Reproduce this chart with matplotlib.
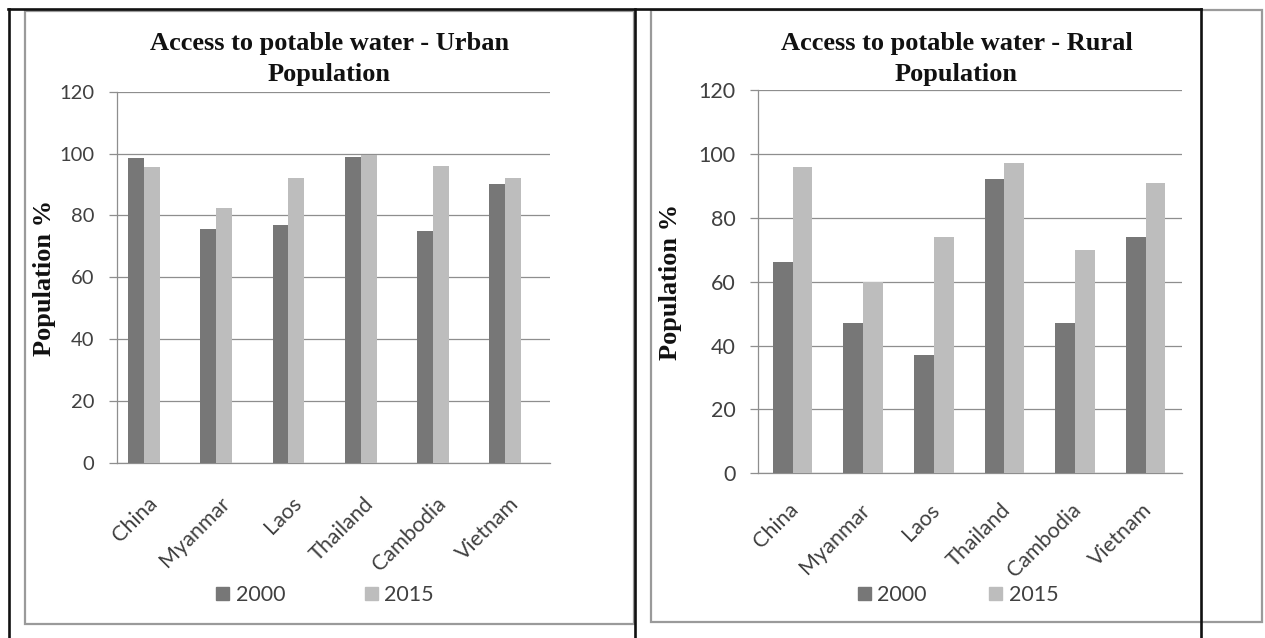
import matplotlib
matplotlib.use("Agg")
import matplotlib.pyplot as plt
from matplotlib.lines import Line2D
from matplotlib.patches import Rectangle, Patch
from matplotlib.transforms import ScaledTranslation
import numpy as np

countries = ['China', 'Myanmar', 'Laos', 'Thailand', 'Cambodia', 'Vietnam']
urban_2000 = [98.5, 75.5, 77, 99, 75, 90]
urban_2015 = [95.5, 82.5, 92, 99.5, 96, 92]
rural_2000 = [66, 47, 37, 92, 47, 74]
rural_2015 = [96, 60, 74, 97, 70, 91]
years = ['2000', '2015']
yticks = [0, 20, 40, 60, 80, 100, 120]

W, H = 1265, 638
DARK, LIGHT = '#777777', '#bdbdbd'
GRID = '#8e8e8e'
TXT = '#404040'
SANS = 'Lato'
SERIF = 'Liberation Serif'

fig = plt.figure(figsize=(W / 100, H / 100), dpi=100)


def fx(px):
    return px / W


def fy(py):
    return 1 - py / H


def rect_px(x0, y0, x1, y1):
    # axes rectangle from pixel corners (top-left origin)
    return [fx(x0), fy(y1), fx(x1) - fx(x0), fy(y0) - fy(y1)]


def draw_chart(box, xlim, width, v2000, v2015, title, frame, ylab_xy,
               tick_fs, lab_dx, lab_pad, leg_xy, colspace):
    ax = fig.add_axes(rect_px(*box))
    x = np.arange(len(countries))
    ax.bar(x - width / 2, v2000, width, color=DARK, zorder=3)
    ax.bar(x + width / 2, v2015, width, color=LIGHT, zorder=3)
    ax.set_xlim(*xlim)
    ax.set_ylim(0, 120)
    ax.set_yticks(yticks)
    ax.yaxis.grid(True, color=GRID, lw=0.9)
    ax.set_axisbelow(True)
    for s in ['top', 'right']:
        ax.spines[s].set_visible(False)
    for s in ['left', 'bottom']:
        ax.spines[s].set_color(GRID)
        ax.spines[s].set_linewidth(0.9)
    ax.tick_params(axis='y', length=6, width=0.9, color=GRID, pad=10,
                   labelsize=tick_fs, labelcolor=TXT)
    ax.tick_params(axis='x', length=0, pad=lab_pad)
    ax.set_xticks(x)
    ax.set_xticklabels(countries, rotation=45, ha='right', va='top',
                       rotation_mode='anchor', fontsize=15.5, color=TXT,
                       family=SANS)
    for lab in ax.get_xticklabels():
        lab.set_transform(lab.get_transform() +
                          ScaledTranslation(lab_dx / 100, 0, fig.dpi_scale_trans))
    for lab in ax.get_yticklabels():
        lab.set_family(SANS)

    # chart frame
    x0, y0, x1, y1 = frame
    fig.add_artist(Rectangle((fx(x0), fy(y1)), fx(x1) - fx(x0), fy(y0) - fy(y1),
                             transform=fig.transFigure, fill=False,
                             edgecolor='#9a9a9a', lw=1.6))
    fig.text(fx((x0 + x1) / 2), fy(59), title, ha='center', va='center',
             family=SERIF, weight='bold', fontsize=19, linespacing=1.4,
             color='#111111')
    fig.text(fx(ylab_xy[0]), fy(ylab_xy[1]), 'Population %', rotation=90,
             ha='center', va='center', family=SERIF, weight='bold',
             fontsize=19, color='#111111')

    handles = [Patch(color=DARK), Patch(color=LIGHT)]
    fig.legend(handles, years, loc='center',
               bbox_to_anchor=(fx(leg_xy[0]), fy(leg_xy[1])),
               ncol=2, frameon=False, handlelength=0.6, handleheight=0.6,
               handletextpad=0.3, columnspacing=colspace,
               prop={'family': SANS, 'size': 15.5}, labelcolor=TXT)
    return ax


draw_chart((116.7, 91.7, 550, 462.7), (-0.378, 5.62), 0.22,
           urban_2000, urban_2015,
           'Access to potable water - Urban\nPopulation',
           (25, 11, 634, 624), (45, 278), 14.5, 3, 22, (325, 595), 3.7)

draw_chart((758, 90, 1181.5, 473.3), (-0.49, 5.51), 0.28,
           rural_2000, rural_2015,
           'Access to potable water - Rural\nPopulation',
           (651, 10, 1262, 622), (670.5, 282), 15.5, -4, 19, (958, 595), 2.9)

# outer table rules
for (xa, ya, xb, yb) in [(8, 9, 1201, 9), (9, 9, 9, 638),
                         (635, 9, 635, 638), (1201, 9, 1201, 638)]:
    fig.add_artist(Line2D([fx(xa), fx(xb)], [fy(ya), fy(yb)],
                          transform=fig.transFigure, color='#111111',
                          lw=1.9, solid_capstyle='projecting'))

fig.savefig('out.png', dpi=100)
